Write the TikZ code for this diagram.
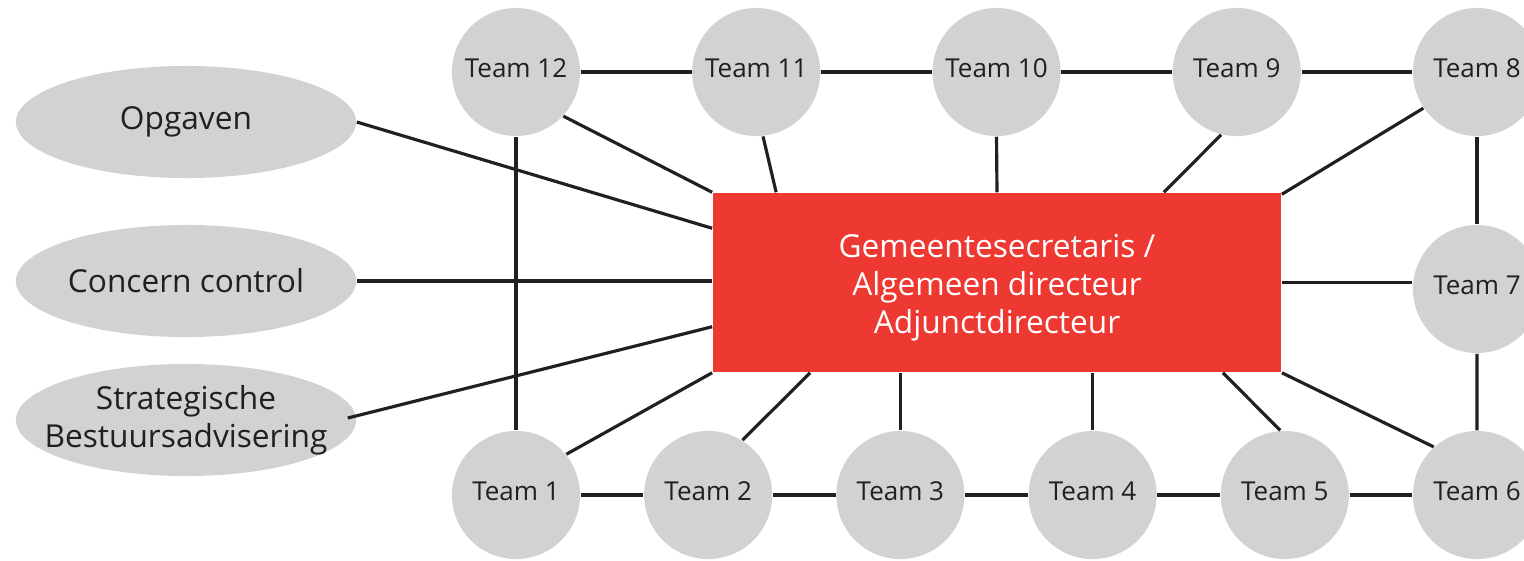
\documentclass[tikz,border=0pt]{standalone}
\usepackage{fontspec}
\setmainfont{Open Sans}
\usetikzlibrary{calc}
\usetikzlibrary{shapes.geometric}

\definecolor{teamgrijs}{RGB}{209,210,212}
\definecolor{gsrood}{RGB}{238,56,50}
\definecolor{lijnzwart}{RGB}{35,31,32}

\tikzset{
	team/.style={circle, fill=teamgrijs, minimum size=1.28cm, inner sep=0pt, text=lijnzwart, text depth=2.3pt, font=\fontsize{7.4}{9}\selectfont},
	staf/.style={ellipse, fill=teamgrijs, minimum width=3.4cm, minimum height=1.12cm, inner xsep=-0.4cm, inner ysep=0pt, align=center, text=lijnzwart, font=\fontsize{9}{10.8}\selectfont},
	verbind/.style={line width=0.9pt, lijnzwart}
}

\begin{document}
\begin{tikzpicture}[x=0.01cm, y=-0.01cm]
			\clip (0,0) rectangle (1524,560);

			\node[rectangle, fill=gsrood, minimum width=5.68cm, minimum height=1.79cm] (gs) at (997,282.5) {};
			\node[align=center, text=white, font=\fontsize{9}{10.8}\selectfont] (gstekst) at ($(gs)+(0,5)$) {Gemeentesecretaris /\\Algemeen directeur\\Adjunctdirecteur};

			% bovenste rij
			\node[team] (t12) at (516,72) {Team 12};
			\node[team] (t11) at ($(t12)+(240.25,0)$) {Team 11};
			\node[team] (t10) at ($(t11)+(240.25,0)$) {Team 10};
			\node[team] (t9) at ($(t10)+(240.25,0)$) {Team 9};
			\node[team] (t8) at ($(t9)+(240.25,0)$) {Team 8};
			\node[team] (t7) at ($(t8)+(0,217)$) {Team 7};

			% onderste rij
			\node[team] (t1) at (516,495) {Team 1};
			\node[team] (t2) at ($(t1)+(192.2,0)$) {Team 2};
			\node[team] (t3) at ($(t2)+(192.2,0)$) {Team 3};
			\node[team] (t4) at ($(t3)+(192.2,0)$) {Team 4};
			\node[team] (t5) at ($(t4)+(192.2,0)$) {Team 5};
			\node[team] (t6) at ($(t5)+(192.2,0)$) {Team 6};

			\node[staf] (opg) at (186,122) {Opgaven};
			\node[staf] (cc) at (186,281) {Concern control};
			\node[staf] (sba) at (186,420) {Strategische\\Bestuursadvisering};

			\draw[verbind] (t12) -- (t11);
			\draw[verbind] (t11) -- (t10);
			\draw[verbind] (t10) -- (t9);
			\draw[verbind] (t9) -- (t8);
			\draw[verbind] (t8.south) -- (t7.north);
			\draw[verbind] (t7.south) -- (t6.north);
			\draw[verbind] (t1) -- (t2);
			\draw[verbind] (t2) -- (t3);
			\draw[verbind] (t3) -- (t4);
			\draw[verbind] (t4) -- (t5);
			\draw[verbind] (t5) -- (t6);
			\draw[verbind] (t12.south) -- (t1.north);

			\draw[verbind] (t12.-43) -- (gs.north west);
			\draw[verbind] (t11.-84) -- ($(gs.north west)+(64,0)$);
			\draw[verbind] (t10.south) -- (gs.north);
			\draw[verbind] (t9.-104) -- ($(gs.north east)+(-118,0)$);
			\draw[verbind] (t8.-146) -- ($(gs.north east)+(0,2)$);
			\draw[verbind] (gs.east) -- (gs.east -| t7.west);
			\draw[verbind] (t6.132) -- (gs.south east);
			\draw[verbind] (t5.94) -- ($(gs.south east)+(-59,0)$);
			\draw[verbind] (t4.north) -- (t4.north |- gs.south);
			\draw[verbind] (t3.north) -- (t3.north |- gs.south);
			\draw[verbind] (t2.58) -- ($(gs.south west)+(98,0)$);
			\draw[verbind] (t1.39) -- (gs.south west);

			\draw[verbind] (opg.east) -- ($(gs.north west)+(0,36)$);
			\draw[verbind] (cc.east) -- (cc.east -| gs.west);
			\draw[verbind] ($(sba.east)+(-9,-2)$) -- ($(gs.south west)+(0,-46)$);
\end{tikzpicture}
\end{document}
